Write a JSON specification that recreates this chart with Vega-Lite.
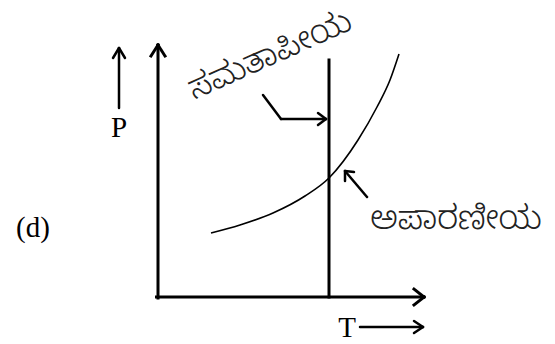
{
  "$schema": "https://vega.github.io/schema/vega-lite/v6.json",
  "width": 555,
  "height": 344,
  "autosize": {"type": "fit", "contains": "padding"},
  "padding": 0,
  "background": "white",
  "config": {"view": {"stroke": null}},
  "datasets": {
    "thick": [
      {"x": 158, "y": 45, "x2": 158, "y2": 298},
      {"x": 156.5, "y": 297, "x2": 424, "y2": 297},
      {"x": 329, "y": 60, "x2": 329, "y2": 297},
      {"x": 158, "y": 45, "x2": 151, "y2": 56},
      {"x": 158, "y": 45, "x2": 165, "y2": 56},
      {"x": 424, "y": 297, "x2": 414, "y2": 289},
      {"x": 424, "y": 297, "x2": 414, "y2": 305}
    ],
    "thin": [
      {"x": 119, "y": 48, "x2": 119, "y2": 108},
      {"x": 119, "y": 48, "x2": 113, "y2": 58},
      {"x": 119, "y": 48, "x2": 125, "y2": 58},
      {"x": 360, "y": 327, "x2": 423, "y2": 327},
      {"x": 423, "y": 327, "x2": 414, "y2": 321},
      {"x": 423, "y": 327, "x2": 414, "y2": 333},
      {"x": 263, "y": 95, "x2": 281, "y2": 119},
      {"x": 281, "y": 119, "x2": 326, "y2": 119},
      {"x": 326, "y": 119, "x2": 318, "y2": 113},
      {"x": 326, "y": 119, "x2": 318, "y2": 125},
      {"x": 367, "y": 197, "x2": 345, "y2": 171},
      {"x": 345, "y": 171, "x2": 354, "y2": 172},
      {"x": 345, "y": 171, "x2": 345, "y2": 181}
    ],
    "curve": [
      {"x": 211, "y": 233},
      {"x": 240, "y": 225},
      {"x": 273, "y": 213},
      {"x": 305, "y": 196},
      {"x": 329, "y": 178},
      {"x": 358, "y": 140},
      {"x": 377, "y": 107},
      {"x": 390, "y": 80},
      {"x": 399, "y": 54}
    ],
    "labels": [
      {"x": 33, "y": 228, "t": "(d)"},
      {"x": 119, "y": 128, "t": "P"},
      {"x": 347, "y": 328, "t": "T"}
    ],
    "kn": [
      {"x": 456, "y": 219, "t": "ಅಪಾರಣೀಯ", "a": 0},
      {"x": 270, "y": 55, "t": "ಸಮತಾಪೀಯ", "a": -24}
    ]
  },
  "layer": [
    {
      "data": {"name": "thick"},
      "mark": {"type": "rule", "strokeWidth": 3, "color": "black", "strokeCap": "square"},
      "encoding": {
        "x": {"field": "x", "type": "quantitative", "scale": {"domain": [0, 555], "nice": false, "zero": false}, "axis": null},
        "y": {"field": "y", "type": "quantitative", "scale": {"domain": [0, 344], "nice": false, "zero": false, "reverse": true}, "axis": null},
        "x2": {"field": "x2"},
        "y2": {"field": "y2"}
      }
    },
    {
      "data": {"name": "thin"},
      "mark": {"type": "rule", "strokeWidth": 2.5, "color": "black", "strokeCap": "round"},
      "encoding": {
        "x": {"field": "x", "type": "quantitative"},
        "y": {"field": "y", "type": "quantitative"},
        "x2": {"field": "x2"},
        "y2": {"field": "y2"}
      }
    },
    {
      "data": {"name": "curve"},
      "mark": {"type": "line", "strokeWidth": 1.6, "color": "black", "interpolate": "monotone"},
      "encoding": {
        "x": {"field": "x", "type": "quantitative"},
        "y": {"field": "y", "type": "quantitative"}
      }
    },
    {
      "data": {"name": "labels"},
      "mark": {"type": "text", "font": "Liberation Serif", "fontSize": 29, "color": "black", "baseline": "middle", "align": "center"},
      "encoding": {
        "x": {"field": "x", "type": "quantitative"},
        "y": {"field": "y", "type": "quantitative"},
        "text": {"field": "t"}
      }
    },
    {
      "data": {"name": "kn"},
      "mark": {"type": "text", "font": "Noto Sans Kannada", "fontWeight": 300, "fontSize": 33, "color": "#222", "baseline": "middle", "align": "center"},
      "encoding": {
        "x": {"field": "x", "type": "quantitative"},
        "y": {"field": "y", "type": "quantitative"},
        "text": {"field": "t"},
        "angle": {"field": "a", "type": "quantitative", "scale": null}
      }
    }
  ]
}
